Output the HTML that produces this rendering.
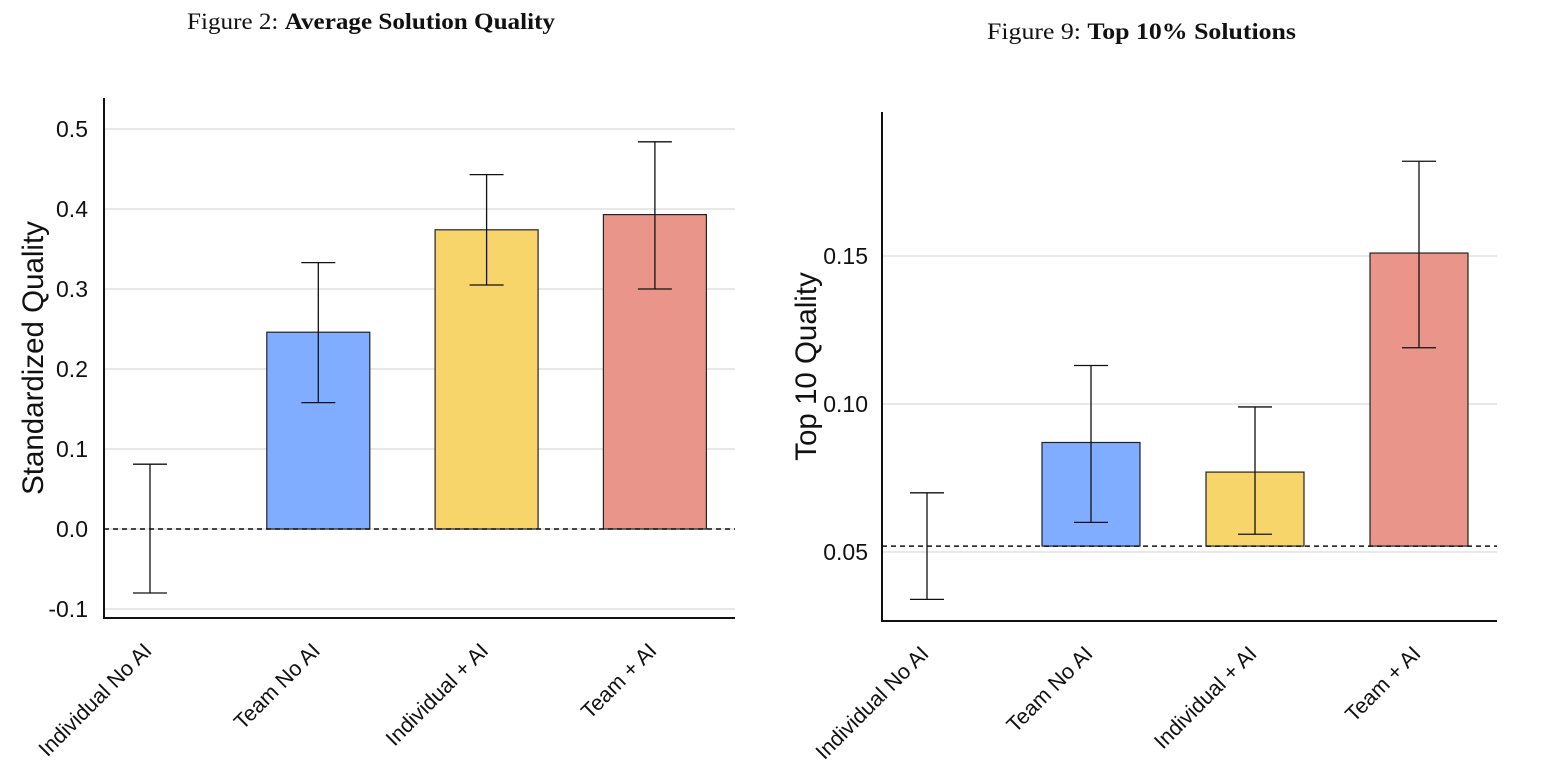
<!DOCTYPE html>
<html><head><meta charset="utf-8"><style>
body{margin:0;background:#fff;}
svg{display:block;}
.t{font-family:"Liberation Serif",serif;font-size:23px;fill:#111;}
.tk{font-family:"Liberation Sans",sans-serif;font-size:23px;fill:#111;}
.xl{font-family:"Liberation Sans",sans-serif;font-size:21.5px;fill:#111;}
.at{font-family:"Liberation Sans",sans-serif;font-size:29.5px;fill:#111;}
</style></head><body>
<svg id="c" width="1546" height="778">
<text class="t" x="187" y="29" textLength="368" lengthAdjust="spacingAndGlyphs">Figure 2: <tspan font-weight="bold">Average Solution Quality</tspan></text>
<text class="t" x="987" y="39" textLength="309" lengthAdjust="spacingAndGlyphs">Figure 9: <tspan font-weight="bold">Top 10% Solutions</tspan></text>
</svg>
<script>
const categories=["Individual No AI","Team No AI","Individual + AI","Team + AI"];
const colors=[null,"#80adff","#f7d56b","#ea958a"];
const leftValues=[0,0.246,0.374,0.393];
const leftLow=[-0.08,0.158,0.305,0.300];
const leftHigh=[0.081,0.333,0.443,0.484];
const leftTicks=[-0.1,0,0.1,0.2,0.3,0.4,0.5];
const leftTickLabels=["-0.1","0.0","0.1","0.2","0.3","0.4","0.5"];
const rightValues=[0.052,0.087,0.077,0.151];
const rightLow=[0.034,0.060,0.056,0.119];
const rightHigh=[0.070,0.113,0.099,0.182];
const rightTicks=[0.05,0.10,0.15];
const rightTickLabels=["0.05","0.10","0.15"];
const NS="http://www.w3.org/2000/svg";
const svg=document.getElementById('c');
function mk(tag,attrs,name,parent){const e=document.createElementNS(NS,tag);for(const k in attrs)e.setAttribute(k,attrs[k]);


(parent||svg).appendChild(e);return e;}
function chart(o){
  const y=v=>o.y0+(v-o.v0)*o.ppu*-1;
  const x=i=>o.xStart+i*o.step;
  o.ticks.forEach((t,i)=>{
    mk('line',{x1:o.ax,x2:o.xEnd,y1:y(t),y2:y(t),stroke:'#e8e8e8','stroke-width':2},o.p+'-gridline');
    const tx=mk('text',{x:o.ax-o.tickGap,y:y(t)+8,'text-anchor':'end',class:'tk'},o.p+'-y-tick-label');tx.textContent=o.labels[i];
  });
  o.values.forEach((v,i)=>{
    if(colors[i]&&v!==o.base){const top=Math.min(y(v),y(o.base));
      mk('rect',{x:x(i)-o.bw/2,y:top,width:o.bw,height:Math.abs(y(v)-y(o.base)),fill:colors[i],stroke:'#222','stroke-width':1.2},o.p+'-bar-'+i);}
  });
  mk('line',{x1:o.ax,x2:o.xEnd,y1:y(o.base),y2:y(o.base),stroke:'#111','stroke-width':1.5,'stroke-dasharray':'5,4'},o.p+'-baseline');
  o.values.forEach((v,i)=>{
    const c=x(i),h=y(o.high[i]),l=y(o.low[i]);
    mk('line',{x1:c,x2:c,y1:h,y2:l,stroke:'#111','stroke-width':1.3},o.p+'-error-bar-'+i);
    mk('line',{x1:c-17,x2:c+17,y1:h,y2:h,stroke:'#111','stroke-width':1.3},o.p+'-error-cap-high-'+i);
    mk('line',{x1:c-17,x2:c+17,y1:l,y2:l,stroke:'#111','stroke-width':1.3},o.p+'-error-cap-low-'+i);
    const lx=c+3,ly=o.axY+34;
    const tx=mk('text',{x:lx,y:ly,'text-anchor':'end',class:'xl',transform:`rotate(-45 ${lx} ${ly})`},o.p+'-x-tick-label');tx.textContent=categories[i];
  });
  mk('line',{x1:o.ax,x2:o.ax,y1:o.axTop,y2:o.axY+1,stroke:'#111','stroke-width':2},o.p+'-y-axis');
  mk('line',{x1:o.ax,x2:o.xEnd,y1:o.axY,y2:o.axY,stroke:'#111','stroke-width':2},o.p+'-x-axis');
  const ty=(o.axTop+o.axY)/2;
  const at=mk('text',{x:o.titleX,y:ty,'text-anchor':'middle',class:'at',transform:`rotate(-90 ${o.titleX} ${ty})`},o.p+'-y-axis-title');at.textContent=o.title;
}
chart({p:'left',v0:0,y0:529,ppu:800,ax:104,xEnd:735,axTop:98,axY:618,xStart:150,step:168.3,bw:103,tickGap:16,
  ticks:leftTicks,labels:leftTickLabels,values:leftValues,low:leftLow,high:leftHigh,base:0,title:'Standardized Quality',titleX:43});
chart({p:'right',v0:0.05,y0:552,ppu:2960,ax:882,xEnd:1497,axTop:112,axY:621,xStart:927,step:164,bw:98,tickGap:14,
  ticks:rightTicks,labels:rightTickLabels,values:rightValues,low:rightLow,high:rightHigh,base:0.052,title:'Top 10 Quality',titleX:816});
</script>
</body></html>
